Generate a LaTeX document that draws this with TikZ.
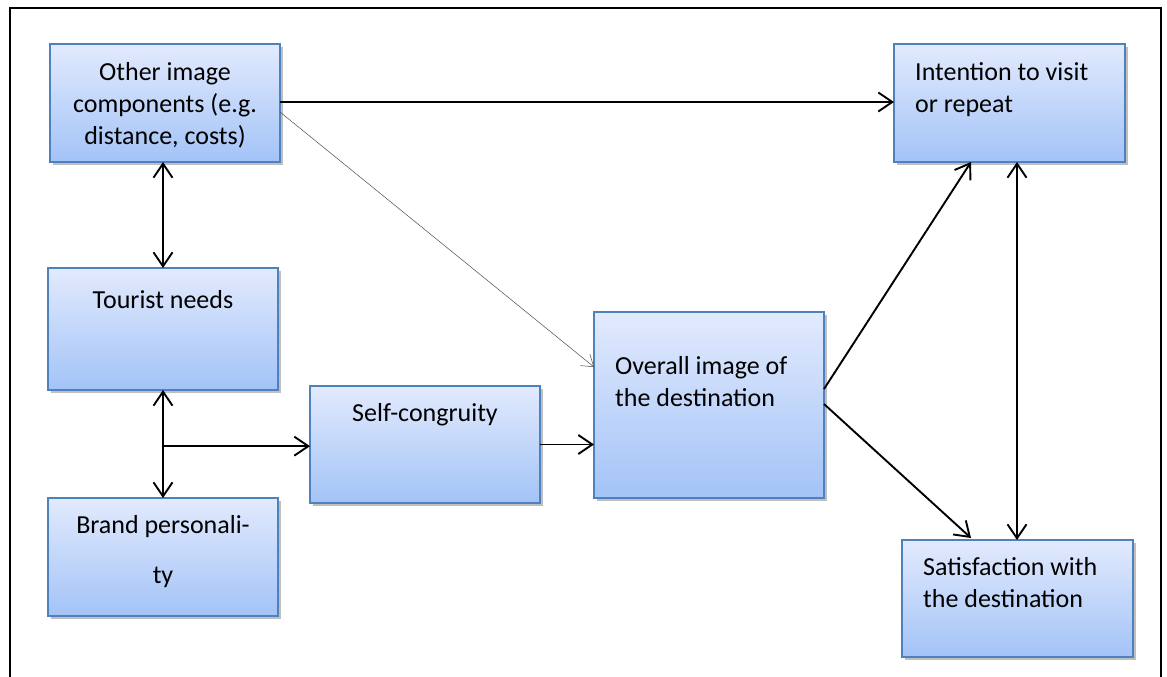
\documentclass[tikz,border=0pt]{standalone}
\usepackage{fontspec}
\setmainfont{Carlito}
\usetikzlibrary{arrows.meta,shadows,calc}
\definecolor{boxtop}{RGB}{226,234,253}
\definecolor{boxbot}{RGB}{163,195,247}
\definecolor{boxline}{RGB}{79,129,189}

\begin{document}
\begin{tikzpicture}[x=1pt,y=-1pt,
  box/.style={draw=boxline, line width=1.3pt, top color=boxtop, bottom color=boxbot,
    anchor=north west, inner sep=0pt, outer sep=0pt,
    drop shadow={shadow xshift=2.5pt, shadow yshift=-3pt, opacity=0.25, fill=black}},
  txt/.style={font=\fontsize{26}{32}\selectfont, inner sep=0pt, anchor=base},
  arr/.style={line width=1.9pt, -{Straight Barb[length=14pt,width=19pt]}},
  darr/.style={line width=1.9pt, {Straight Barb[length=14pt,width=19pt]}-{Straight Barb[length=14pt,width=19pt]}},
  thinarr/.style={line width=0.5pt, draw=black!70, -{Straight Barb[length=11pt,width=15pt]}}
]
\useasboundingbox (0,0) rectangle (1167,677);

% outer frame (runs off the bottom edge)
\draw[line width=1.9pt] (10,700) -- (10,8) -- (1161,8) -- (1161,700);

% boxes
\node[box, minimum width=230pt, minimum height=118pt] (oic) at (50,44) {};
\node[box, minimum width=231pt, minimum height=118pt] (itv) at (894,44) {};
\node[box, minimum width=230pt, minimum height=122pt] (tn)  at (48,268) {};
\node[box, minimum width=230pt, minimum height=118pt] (bp)  at (48,498) {};
\node[box, minimum width=230pt, minimum height=117pt] (sc)  at (310,386) {};
\node[box, minimum width=230pt, minimum height=186pt] (oid) at (594,312) {};
\node[box, minimum width=231pt, minimum height=117pt] (swd) at (902,540) {};

% labels (base anchor sits on the last line)
\node[txt, align=center] (toic) at (165,144) {Other image\\components (e.g.\\distance, costs)};
\node[txt, align=left, anchor=base west] (titv) at (915,112) {Intention to visit\\or repeat};
\node[txt] (ttn) at (163,308) {Tourist needs};
\node[txt, align=center] (tbp) at (163,583) {Brand personali-\\[18pt]ty};
\node[txt] (tsc) at (425,421) {Self-congruity};
\node[txt, align=left, anchor=base west] (toid) at (615,406) {Overall image of\\the destination};
\node[txt, align=left, anchor=base west] (tswd) at (923,607) {Satisfaction with\\the destination};

% connectors
\draw[arr] ($(oic.north east)+(0,58)$) -- ($(itv.north west)+(0,58)$);
\draw[thinarr] ($(oic.north east)+(0,68)$) -- ($(oid.north west)+(0,55)$);
\draw[darr] (tn.north) -- (tn.north |- oic.south);
\draw[darr] (tn.south) -- (bp.north);
\coordinate (br) at ($(tn.south)!0.52!(bp.north)$);
\draw[arr] (br) -- (br -| sc.west);
\draw[arr] (sc.east) -- (sc.east -| oid.west);
\draw[arr] ($(oid.north east)+(0,77)$) -- ($(itv.south west)+(77,0)$);
\draw[arr] ($(oid.north east)+(0,92)$) -- ($(swd.north west)+(69,-2)$);
\coordinate (vx) at ($(itv.south west)+(123,0)$);
\draw[darr] (vx) -- (vx |- swd.north);
\end{tikzpicture}
\end{document}
